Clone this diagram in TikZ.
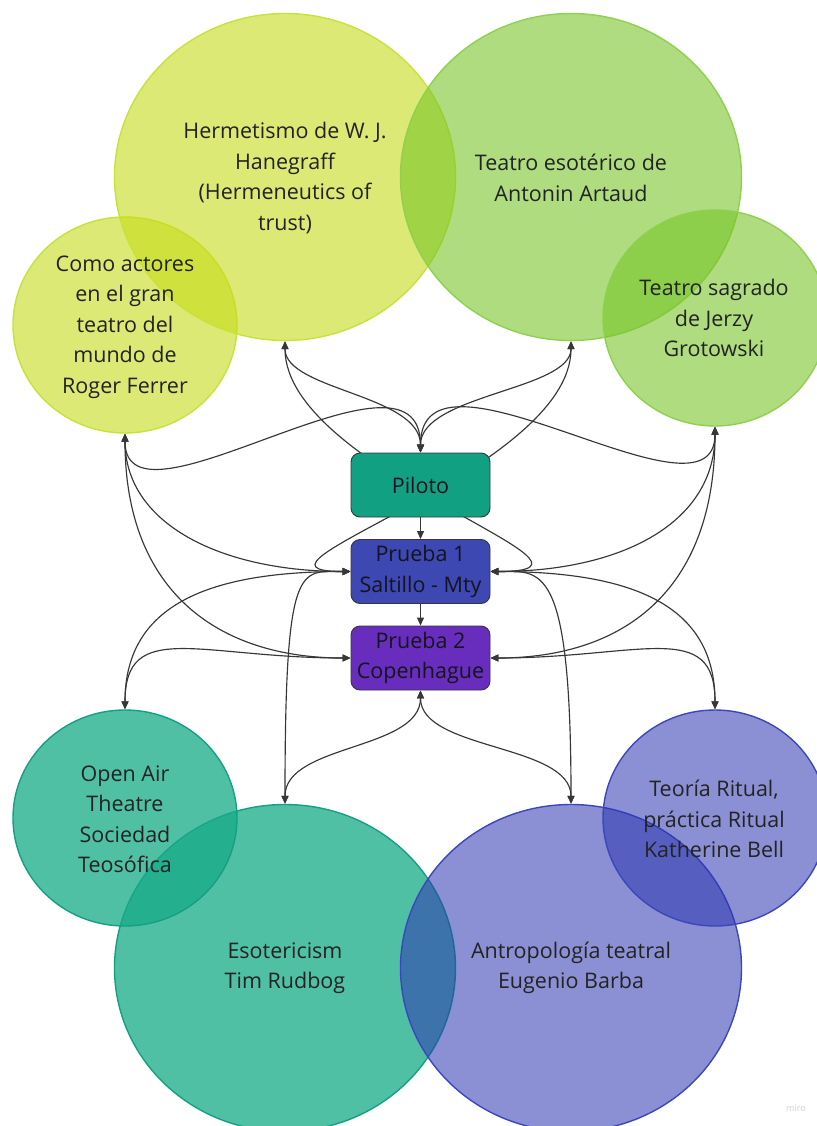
\documentclass[tikz,border=0pt]{standalone}
\usepackage{fontspec}
\setmainfont{Open Sans}
\usetikzlibrary{arrows.meta,shapes.geometric}
\pgfdeclarelayer{bg}
\pgfdeclarelayer{mid}
\pgfsetlayers{bg,mid,main}
\definecolor{yel}{RGB}{197,220,25}
\definecolor{yeledge}{RGB}{200,226,58}
\definecolor{grn}{RGB}{120,197,40}
\definecolor{grnedge}{RGB}{143,209,79}
\definecolor{tea}{RGB}{22,171,136}
\definecolor{teaedge}{RGB}{20,160,131}
\definecolor{pur}{RGB}{44,53,177}
\definecolor{puredge}{RGB}{60,70,190}
\definecolor{pilc}{RGB}{18,160,130}
\definecolor{p1c}{RGB}{62,72,178}
\definecolor{p2c}{RGB}{105,45,190}
\definecolor{boxedge}{RGB}{55,55,60}
\definecolor{linec}{RGB}{55,55,55}
\definecolor{txtc}{RGB}{35,35,35}
\definecolor{boxtxt}{RGB}{20,20,30}
\begin{document}
\begin{tikzpicture}[x=1pt,y=-1pt,
  bub/.style={ellipse, inner sep=0pt, line width=1.4pt},
  bigb/.style={bub, minimum width=341pt, minimum height=327pt},
  smallb/.style={bub, minimum width=224pt, minimum height=216pt},
  yb/.style={fill=yel, fill opacity=.6, draw=yeledge},
  gb/.style={fill=grn, fill opacity=.6, draw=grnedge},
  tb/.style={fill=tea, fill opacity=.75, draw=teaedge},
  pb/.style={fill=pur, fill opacity=.55, draw=puredge},
  txt/.style={align=center, text=txtc, font=\fontsize{21.5}{30.5}\selectfont, inner sep=0pt},
  box/.style={rectangle, rounded corners=9pt, draw=boxedge, line width=0.9pt,
    minimum width=139pt, minimum height=64pt, inner sep=0pt, align=center,
    text=boxtxt, font=\fontsize{21.5}{30.5}\selectfont},
  con/.style={draw=linec, line width=1.15pt,
    {Triangle[length=8pt,width=7pt]}-{Triangle[length=8pt,width=7pt]}},
  one/.style={draw=linec, line width=1.15pt, -{Triangle[length=8pt,width=7pt]}}]
\useasboundingbox (0,0) rectangle (816,1126);

\begin{pgfonlayer}{bg}
  \fill[white] (0,0) rectangle (816,1126);
  \node[smallb, yb] (ca) at (125,325) {};
  \node[bigb, yb] (hm) at (285,177) {};
  \node[bigb, gb] (te) at (571,177) {};
  \node[smallb, gb] (ts) at (715,318) {};
  \node[bigb, tb] (es) at (285,968) {};
  \node[smallb, tb] (oa) at (125,818) {};
  \node[bigb, pb] (an) at (571,968) {};
  \node[smallb, pb] (tr) at (715,818) {};
\end{pgfonlayer}

\node[txt] (ca-t) at (125,327) {Como actores\\en el gran\\teatro del\\mundo de\\Roger Ferrer};
\node[txt] (hm-t) at (285,178) {Hermetismo de W. J.\\Hanegraff\\(Hermeneutics of\\trust)};
\node[txt] (te-t) at (571,178) {Teatro esotérico de\\Antonin Artaud};
\node[txt] (ts-t) at (714,318) {Teatro sagrado\\de Jerzy\\Grotowski};
\node[txt] (oa-t) at (125,819) {Open Air\\Theatre\\Sociedad\\Teosófica};
\node[txt] (tr-t) at (714,819) {Teoría Ritual,\\práctica Ritual\\Katherine Bell};
\node[txt] (es-t) at (285,968) {Esotericism\\Tim Rudbog};
\node[txt] (an-t) at (571,968) {Antropología teatral\\Eugenio Barba};

\node[box, fill=pilc] (pil) at (420.5,485) {Piloto};
\node[box, fill=p1c] (p1) at (420.5,571.5) {Prueba 1\\Saltillo - Mty};
\node[box, fill=p2c] (p2) at (420.5,658) {Prueba 2\\Copenhague};

\node[text=black!18, font=\fontsize{9}{10}\selectfont] (miro) at (796,1108) {miro};

\begin{pgfonlayer}{mid}
  \path[con] (ca.south) .. controls +(0,110) and +(0,-128) .. (pil.north);
  \path[con] (hm.south) .. controls +(0,49) and +(0,-58) .. (pil.north);
  \path[con] (te.south) .. controls +(0,49) and +(0,-58) .. (pil.north);
  \path[con] (ts.south) .. controls +(0,110) and +(0,-128) .. (pil.north);
  \path[con] (hm.south) .. controls +(0,130) and +(150,0) .. (p1.east);
  \path[con] (te.south) .. controls +(0,130) and +(-136,0) .. (p1.west);
  \path[con] (ca.south) .. controls +(0,90) and +(-130,0) .. (p1.west);
  \path[con] (ca.south) .. controls +(0,160) and +(-130,0) .. (p2.west);
  \path[con] (oa.north) .. controls +(0,-100) and +(-150,0) .. (p1.west);
  \path[con] (oa.north) .. controls +(0,-91) and +(-150,0) .. (p2.west);
  \path[con] (es.north) .. controls +(0,-245) and +(-51,0) .. (p1.west);
  \path[con] (es.north) .. controls +(0,-60) and +(0,60) .. (p2.south);
  \path[con] (an.north) .. controls +(0,-60) and +(0,60) .. (p2.south);
  \path[con] (an.north) .. controls +(0,-245) and +(50,0) .. (p1.east);
  \path[con] (ts.south) .. controls +(0,97) and +(130,0) .. (p1.east);
  \path[con] (ts.south) .. controls +(0,167) and +(130,0) .. (p2.east);
  \path[con] (tr.north) .. controls +(0,-100) and +(150,0) .. (p1.east);
  \path[con] (tr.north) .. controls +(0,-91) and +(150,0) .. (p2.east);
  \path[one] (pil.south) -- (p1.north);
  \path[one] (p1.south) -- (p2.north);
\end{pgfonlayer}
\end{tikzpicture}
\end{document}
